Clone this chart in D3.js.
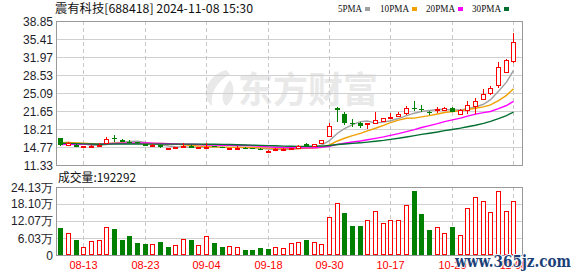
<!DOCTYPE html>
<html>
<head>
<meta charset="utf-8">
<script src="https://cdn.jsdelivr.net/npm/d3@7/dist/d3.min.js"></script>
<style>
  body { margin: 0; background: #fff; }
  svg { display: block; }
</style>
</head>
<body>
<svg></svg>
<script>
// daily bars, 08-08 .. 11-08
const dates = ['08-08','08-09','08-12','08-13','08-14','08-15','08-16','08-19','08-20','08-21',
  '08-22','08-23','08-26','08-27','08-28','08-29','08-30','09-02','09-03','09-04',
  '09-05','09-06','09-09','09-10','09-11','09-12','09-13','09-18','09-19','09-20',
  '09-23','09-24','09-25','09-26','09-27','09-30','10-08','10-09','10-10','10-11',
  '10-14','10-15','10-16','10-17','10-18','10-21','10-22','10-23','10-24','10-25',
  '10-28','10-29','10-30','10-31','11-01','11-04','11-05','11-06','11-07','11-08']
const opens = [16.4,15.2,15.2,14.85,14.95,14.95,15.6,16.4,16.2,15.8,
  15.7,15.3,15.0,15.1,14.45,14.5,14.75,15.0,14.6,14.75,
  14.9,14.75,14.45,14.6,14.65,14.55,14.45,13.9,14.15,14.3,
  14.4,14.6,15.3,14.9,15.5,16.9,22.2,21.0,19.35,19.4,
  19.15,19.3,19.6,20.35,20.6,21.3,22.3,21.95,21.5,21.9,
  21.9,22.3,21.2,21.9,22.6,24.0,25.0,26.5,29.2,31.2]
const highs = [16.5,15.7,15.25,15.05,15.1,15.6,16.7,17.0,16.3,16.1,
  15.75,15.35,15.3,15.2,14.65,14.8,15.5,15.2,14.85,15.5,
  14.95,14.8,14.65,14.9,14.7,14.6,14.5,14.25,14.55,14.5,
  14.65,15.1,15.6,15.35,16.2,19.3,22.4,21.5,20.2,19.6,
  19.45,21.5,20.3,21.2,21.5,22.6,23.55,22.8,21.7,22.4,
  22.45,22.45,22.1,23.55,24.2,25.9,26.4,31.0,31.5,36.6]
const lows = [15.0,15.1,14.8,14.75,14.85,14.9,15.5,15.8,15.7,15.5,
  15.4,14.95,14.9,14.65,14.25,14.45,14.7,14.6,14.5,14.7,
  14.7,14.55,14.2,14.3,14.5,14.4,14.2,13.6,14.05,14.25,
  14.35,14.55,14.8,14.85,15.4,16.6,19.6,18.9,18.6,18.4,
  18.3,19.2,19.5,20.2,20.5,20.8,21.7,21.5,20.95,21.3,
  21.6,21.5,20.95,21.1,21.1,23.8,24.7,26.1,29.1,30.9]
const closes = [15.15,15.5,14.9,14.95,15.0,15.15,16.3,16.2,15.75,15.7,
  15.5,15.0,15.1,14.7,14.55,14.7,14.9,14.65,14.7,14.85,
  14.75,14.6,14.6,14.65,14.55,14.45,14.25,14.1,14.3,14.4,
  14.55,14.9,14.85,15.3,16.1,18.8,21.9,19.3,19.2,18.85,
  19.4,19.9,20.25,20.5,21.0,22.25,22.15,21.85,21.45,21.97,
  22.3,21.6,21.9,22.8,23.5,24.9,26.0,30.0,31.4,34.8]
// volume in 手
const volumes = [97000,77000,53000,28000,48500,52000,99000,92000,54000,67000,
  44000,39000,38000,46000,29000,35000,56000,53000,35000,67000,
  43000,29000,32000,28000,18000,18000,25000,22500,28000,25000,
  43000,46000,53000,46000,39000,134000,183000,150000,103000,103000,
  124000,156000,112000,124000,124000,177000,227000,145000,89000,99000,
  77000,99000,70000,166000,205000,192000,151000,227000,155000,192292]
// closes of the 29 sessions before 08-08 (feed the moving averages)
const priorCloses = [16.6,16.4,16.3,16.1,16.0,15.9,15.8,15.7,15.7,15.5,
  15.2,15.0,14.9,14.7,14.8,14.6,14.9,14.8,15.0,15.1,
  15.3,15.5,15.7,15.8,15.7,15.4,15.5,15.45,16.5]

const priceTicks = [11.33,14.77,18.21,21.65,25.09,28.53,31.97,35.41,38.85]
const volTicks = [0,6.03,12.07,18.10,24.13]
const dateTicks = ['08-13','08-23','09-04','09-18','09-30','10-17','10-29','11-08']
const maPeriods = [5,10,20,30]
const maNames = ['5PMA','10PMA','20PMA','30PMA']
const maColors = ['#a0a0a0','#f0a000','#ff00ff','#006f30']

const W = 578, H = 276
const LEFT = 56, RIGHT = 522
const P_TOP = 21, P_BOT = 165
const V_TOP = 187, V_BOT = 255
const RED = '#ff0000', GREEN = '#008000'

const svg = d3.select('svg').attr('width', W).attr('height', H)

const x = d3.scaleBand().domain(dates).range([56.4, 517.2])
const cx = d => Math.round(x(d) + x.bandwidth() / 2)
const y = d3.scaleLinear().domain([11.33, 38.85]).range([P_BOT, P_TOP])
const yv = d3.scaleLinear().domain([0, 24.13]).range([V_BOT, V_TOP])

// watermark
const wm = svg.append('g').attr('fill', '#e9e9e9')
wm.append('path')
  .attr('d', 'M226,70 C206,76 200,96 212,106 C210,94 216,82 230,74 Z M230,80 C222,90 220,100 226,106 C234,100 236,88 230,80 Z')
wm.append('text')
  .attr('x', 238).attr('y', 103)
  .attr('font-family', 'Noto Sans CJK SC').attr('font-weight', 'bold')
  .attr('font-size', 36).attr('textLength', 140).attr('lengthAdjust', 'spacingAndGlyphs')
  .text('东方财富')

// grids
function panel(top, bot, ticks, scale) {
  svg.append('g').selectAll('line').data(ticks).join('line')
    .attr('x1', LEFT).attr('x2', RIGHT)
    .attr('y1', d => Math.round(scale(d)) + 0.5).attr('y2', d => Math.round(scale(d)) + 0.5)
    .attr('stroke', '#d0d0d0')
  svg.append('g').selectAll('line').data(dateTicks).join('line')
    .attr('x1', d => cx(d) + 0.5).attr('x2', d => cx(d) + 0.5)
    .attr('y1', top).attr('y2', bot)
    .attr('stroke', '#c8c8c8').attr('stroke-dasharray', '4,3')
  svg.append('rect')
    .attr('x', LEFT + 0.5).attr('y', top + 0.5)
    .attr('width', RIGHT - LEFT).attr('height', bot - top)
    .attr('fill', 'none').attr('stroke', '#999')
}
panel(P_TOP, P_BOT, priceTicks, y)
panel(V_TOP, V_BOT, volTicks, yv)

// axis labels
svg.append('g').selectAll('text').data(priceTicks).join('text')
  .attr('x', 53).attr('y', d => y(d) + 4.5)
  .attr('text-anchor', 'end')
  .attr('font-family', 'Liberation Sans, Arial').attr('font-size', 12).attr('fill', '#1e1e2a')
  .text(d => d.toFixed(2))
svg.append('g').selectAll('text').data(volTicks).join('text')
  .attr('x', 53).attr('y', d => yv(d) + 4.5)
  .attr('text-anchor', 'end')
  .attr('font-family', 'Liberation Sans, Arial').attr('font-size', 12).attr('fill', '#1e1e2a')
  .text(d => d === 0 ? '0' : d.toFixed(2) + '万')
svg.append('g').selectAll('text').data(dateTicks).join('text')
  .attr('x', d => cx(d) + 0.5).attr('y', 269)
  .attr('text-anchor', 'middle')
  .attr('font-family', 'Liberation Sans, Arial').attr('font-size', 11).attr('fill', RED)
  .text(d => d)

// moving averages
const allCloses = priorCloses.concat(closes)
const off = priorCloses.length
maPeriods.forEach((p, k) => {
  const ma = dates.map((d, i) => d3.mean(allCloses.slice(off + i - p + 1, off + i + 1)))
  svg.append('path')
    .datum(ma)
    .attr('fill', 'none').attr('stroke', maColors[k]).attr('stroke-width', 1.4)
    .attr('d', d3.line().x((v, i) => cx(dates[i]) + 0.5).y(v => y(v)))
})

// candles
const candles = svg.append('g').attr('shape-rendering', 'crispEdges')
dates.forEach((d, i) => {
  const up = closes[i] >= opens[i]
  const col = up ? RED : GREEN
  const c = cx(d) + 0.5
  const top = y(Math.max(opens[i], closes[i])), bot = y(Math.min(opens[i], closes[i]))
  candles.append('line')
    .attr('x1', c).attr('x2', c).attr('y1', y(highs[i])).attr('y2', up ? top : y(lows[i]))
    .attr('stroke', col)
  if (up) {
    candles.append('line')
      .attr('x1', c).attr('x2', c).attr('y1', bot).attr('y2', y(lows[i]))
      .attr('stroke', col)
    candles.append('rect')
      .attr('x', c - 2).attr('y', Math.round(top) + 0.5)
      .attr('width', 4).attr('height', Math.max(1, Math.round(bot - top)))
      .attr('fill', '#fff').attr('stroke', col)
  } else {
    candles.append('rect')
      .attr('x', c - 2.5).attr('y', Math.round(top))
      .attr('width', 5).attr('height', Math.max(1, Math.round(bot - top)))
      .attr('fill', col)
  }
})

// volume
const prevClose = i => i === 0 ? priorCloses[priorCloses.length - 1] : closes[i - 1]
svg.append('g').attr('shape-rendering', 'crispEdges')
  .selectAll('rect').data(dates).join('rect')
  .each(function (d, i) {
    const up = closes[i] >= prevClose(i)
    const c = cx(d) + 0.5
    const t = Math.round(yv(volumes[i] / 10000))
    const r = d3.select(this)
    if (up) {
      r.attr('x', c - 2).attr('y', t + 0.5).attr('width', 4).attr('height', V_BOT - t - 1)
        .attr('fill', '#fff').attr('stroke', RED)
    } else {
      r.attr('x', c - 2.5).attr('y', t).attr('width', 5).attr('height', V_BOT - t)
        .attr('fill', GREEN)
    }
  })

// titles
svg.append('text')
  .attr('x', 55).attr('y', 13)
  .attr('font-family', 'Noto Sans CJK SC').attr('font-size', 12).attr('fill', '#111')
  .attr('textLength', 198).attr('lengthAdjust', 'spacingAndGlyphs')
  .text('震有科技[688418] 2024-11-08 15:30')

svg.append('text')
  .attr('x', 58).attr('y', 182)
  .attr('font-family', 'Noto Sans CJK SC').attr('font-size', 12).attr('fill', '#111')
  .attr('textLength', 78).attr('lengthAdjust', 'spacingAndGlyphs')
  .text('成交量:' + volumes[volumes.length - 1])

// legend
const legendX = [338, 380, 426, 472]
const legendW = [24, 29, 29, 29]
const lg = svg.append('g').selectAll('g').data(maNames).join('g')
lg.append('text')
  .attr('x', (d, i) => legendX[i]).attr('y', 12)
  .attr('font-family', 'Liberation Serif').attr('font-size', 11).attr('fill', '#111')
  .attr('textLength', (d, i) => legendW[i]).attr('lengthAdjust', 'spacingAndGlyphs')
  .text(d => d)
lg.append('rect')
  .attr('x', (d, i) => legendX[i] + legendW[i] + 3).attr('y', 7)
  .attr('width', 5).attr('height', 4)
  .attr('fill', (d, i) => maColors[i])

// site mark
svg.append('text')
  .attr('x', 455).attr('y', 267)
  .attr('font-family', 'DejaVu Serif').attr('font-weight', 'bold').attr('font-size', 17)
  .attr('fill', '#1c3f78').attr('stroke', '#fff').attr('stroke-width', 2)
  .attr('paint-order', 'stroke')
  .attr('textLength', 116).attr('lengthAdjust', 'spacingAndGlyphs')
  .text('www.365jz.com')
</script>
</body>
</html>
